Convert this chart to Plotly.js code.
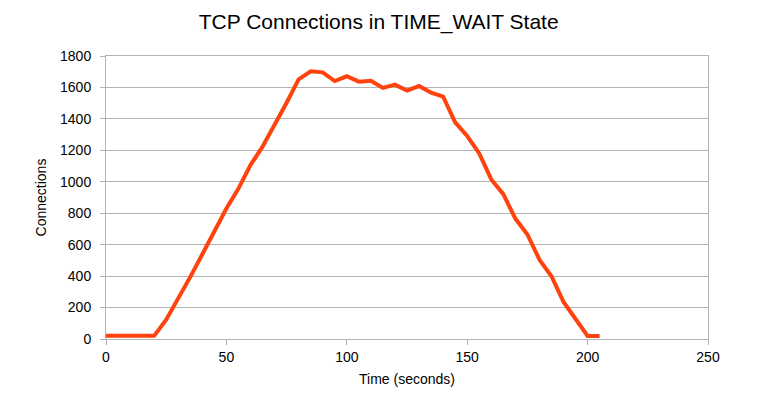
<!DOCTYPE html>
<html>
<head>
<meta charset="utf-8">
<script src="https://cdn.plot.ly/plotly-3.0.1.min.js"></script>
<style>html,body{margin:0;padding:0;background:#fff;}#chart{width:776px;height:399px;}</style>
</head>
<body>
<div id="chart"></div>
<script>
const timeSeconds = [0,5,10,15,20,25,30,35,40,45,50,55,60,65,70,75,80,85,90,95,100,105,110,115,120,125,130,135,140,145,150,155,160,165,170,175,180,185,190,195,200,205];
const connections = [20,20,20,20,20,123,257,395,539,681,830,957,1106,1223,1361,1503,1652,1703,1696,1641,1671,1637,1643,1597,1618,1580,1609,1567,1541,1378,1291,1180,1015,921,766,665,505,399,236,130,19,19];
const xTickVals = [0,50,100,150,200,250];
const yTickVals = [0,200,400,600,800,1000,1200,1400,1600,1800];

const FONT = '"Liberation Sans", Arial, sans-serif';

Plotly.newPlot('chart', [{
  x: timeSeconds,
  y: connections,
  type: 'scatter',
  mode: 'lines',
  line: {color: '#ff420e', width: 4},
  hoverinfo: 'none'
}], {
  width: 776, height: 399,
  margin: {l: 106, r: 68, t: 56, b: 60},
  paper_bgcolor: '#ffffff',
  plot_bgcolor: '#ffffff',
  showlegend: false,
  font: {family: FONT, color: '#000000', size: 14},
  title: {text: 'TCP Connections in TIME_WAIT State', font: {family: FONT, size: 21, color: '#000'}, x: 0.488, xanchor: 'center', y: 0.945, yanchor: 'middle'},
  xaxis: {
    range: [0, 250], tickvals: xTickVals, ticktext: xTickVals.map(String),
    showgrid: false, zeroline: false,
    showline: true, mirror: true, linecolor: '#b3b3b3', linewidth: 1,
    ticks: 'outside', ticklen: 5, tickcolor: '#b3b3b3',
    tickfont: {family: FONT, size: 14},
    title: {text: 'Time (seconds)', font: {family: FONT, size: 14}, standoff: 10}
  },
  yaxis: {
    range: [0, 1800], tickvals: yTickVals, ticktext: yTickVals.map(String),
    showgrid: true, gridcolor: '#b3b3b3', gridwidth: 1, zeroline: false,
    showline: true, mirror: true, linecolor: '#b3b3b3', linewidth: 1,
    ticks: 'outside', ticklen: 5, tickcolor: '#b3b3b3',
    ticklabelstandoff: 6,
    tickfont: {family: FONT, size: 14},
    title: {text: 'Connections', font: {family: FONT, size: 14}, standoff: 10}
  }
}, {displayModeBar: false, staticPlot: true});
</script>
</body>
</html>
